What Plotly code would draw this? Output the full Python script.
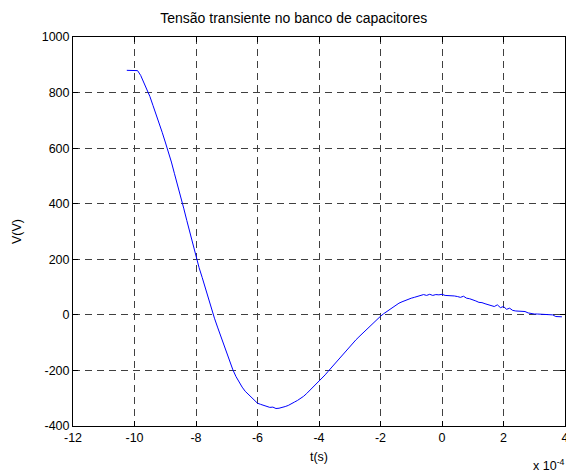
import plotly.graph_objects as go

# tempo em unidades de 1e-4 s
t = [-10.25, -10.0, -9.9, -9.8, -9.7, -9.6, -9.5, -9.4, -9.3, -9.2, -9.1,
     -9.0, -8.9, -8.8, -8.7, -8.6, -8.5, -8.4, -8.3, -8.2, -8.1,
     -8.0, -7.9, -7.8, -7.7, -7.6, -7.5, -7.4, -7.3, -7.2, -7.1,
     -7.0, -6.9, -6.8, -6.7, -6.6, -6.5, -6.4, -6.3, -6.2, -6.1,
     -6.0, -5.9, -5.8, -5.7, -5.6, -5.5, -5.4, -5.3, -5.2, -5.1,
     -5.0, -4.9, -4.8, -4.7, -4.6, -4.5, -4.4, -4.3, -4.2, -4.1,
     -4.0, -3.9, -3.8, -3.7, -3.6, -3.5, -3.4, -3.3, -3.2, -3.1,
     -3.0, -2.9, -2.8, -2.7, -2.6, -2.5, -2.4, -2.3, -2.2, -2.1,
     -2.0, -1.9, -1.8, -1.7, -1.6, -1.5, -1.4, -1.3, -1.2, -1.1,
     -1.0, -0.9, -0.8, -0.7, -0.6, -0.5, -0.4, -0.3, -0.2, -0.1,
     0.0, 0.1, 0.2, 0.3, 0.4, 0.5, 0.6, 0.7, 0.8, 0.9,
     1.0, 1.1, 1.2, 1.3, 1.4, 1.5, 1.6, 1.7, 1.8, 1.9,
     2.0, 2.1, 2.2, 2.3, 2.4, 2.5, 2.6, 2.7, 2.8, 2.9,
     3.0, 3.1, 3.2, 3.3, 3.4, 3.5, 3.6, 3.7, 3.8, 3.9]

v = [880, 880, 879, 862, 838, 812, 786, 754, 724, 690, 657,
     622, 588, 550, 508, 469, 426, 384, 340, 296, 252,
     208, 170, 135, 96, 59, 22, -12, -44, -75, -106,
     -137, -168, -198, -222, -243, -260, -275, -286, -296, -306,
     -318, -322, -326, -330, -333, -332, -337, -336, -334, -330,
     -326, -321, -314, -308, -301, -293, -283, -272, -260, -250,
     -241, -230, -216, -203, -190, -177, -164, -151, -138, -126,
     -114, -102, -90, -79, -68, -57, -46, -35, -25, -15,
     -5, 4, 12, 20, 28, 36, 42, 47, 52, 56,
     60, 63, 67, 71, 73, 70, 74, 70, 73, 72,
     74, 70, 70, 69, 68, 66, 63, 67, 60, 58,
     55, 50, 45, 44, 40, 37, 35, 30, 36, 26,
     30, 20, 24, 16, 14, 13, 13, 12, 7, 4,
     3, 3, 2, 2, 2, 1, 0, -6, -7, -7]

x_ticks = [-12, -10, -8, -6, -4, -2, 0, 2, 4]
y_ticks = [-400, -200, 0, 200, 400, 600, 800, 1000]

fnt = dict(family="Liberation Sans, Arial, sans-serif", size=12.5, color="black")

fig = go.Figure()
fig.add_trace(go.Scatter(x=t, y=v, mode="lines",
                         line=dict(color="#0000ff", width=1)))

axis_style = dict(
    showline=True, linecolor="black", linewidth=1, mirror="ticks",
    ticks="inside", ticklen=5, tickcolor="black",
    showgrid=True, gridcolor="#404040", gridwidth=1, griddash="7px,5px",
    zeroline=False, tickfont=fnt, ticklabeloverflow="allow",
    automargin=False,
)

# hifen simples nos rotulos, como no original
fig.update_xaxes(range=[-12, 4], tickvals=x_ticks,
                 ticktext=[str(x) for x in x_ticks], **axis_style,
                 title=dict(text="t(s)", font=fnt, standoff=8))
fig.update_yaxes(range=[-400, 1000], tickvals=y_ticks,
                 ticktext=[str(y) for y in y_ticks], **axis_style,
                 title=dict(text="V(V)", font=fnt, standoff=17))

fig.add_annotation(text="x 10<sup>-4</sup>", xref="paper", yref="paper",
                   x=0.931, y=-0.1, xanchor="left", yanchor="middle",
                   showarrow=False, font=fnt)

fig.update_layout(
    width=566, height=471,
    margin=dict(l=73, r=1, t=37, b=45),
    paper_bgcolor="white", plot_bgcolor="white",
    showlegend=False,
    title=dict(text="Tensão transiente no banco de capacitores",
               font=dict(family=fnt["family"], size=14, color="black"),
               x=0.519, xanchor="center", y=0.962, yanchor="middle"),
)

# tira a margem padrao do body para a figura ocupar a janela toda
fig.write_html("out.html", config={"displayModeBar": False},
               post_script="document.body.style.margin='0';"
                           "document.body.style.overflow='hidden';")
